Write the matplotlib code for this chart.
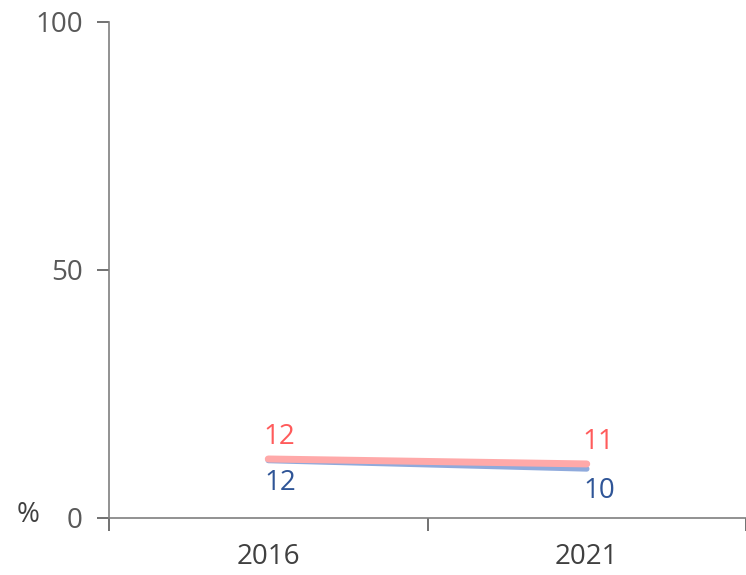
import matplotlib
matplotlib.use('Agg')
import matplotlib.pyplot as plt

years = ['2016', '2021']
pink_vals = [11.9, 10.9]
blue_vals = [11.6, 9.9]
pink_labels = ['12', '11']
blue_labels = ['12', '10']

plt.rcParams['font.family'] = ['Open Sans', 'DejaVu Sans']

fig = plt.figure(figsize=(7.46, 5.75), dpi=100)
ax = fig.add_axes([109 / 746, 1 - 518 / 575, 637 / 746, 496 / 575])

x = list(range(len(years)))
ax.plot(x, blue_vals, color='#8faadc', lw=4, solid_capstyle='round', zorder=2)
ax.plot(x, pink_vals, color='#ffa9a9', lw=5, solid_capstyle='round', zorder=3)

for xi, v, lab in zip(x, pink_vals, pink_labels):
    ax.annotate(lab, (xi, v), xytext=(8, 6), textcoords='offset points',
                ha='center', va='bottom', fontsize=20, color='#ff5b5b')
for xi, v, lab in zip(x, blue_vals, blue_labels):
    ax.annotate(lab, (xi, v), xytext=(9, -6), textcoords='offset points',
                ha='center', va='top', fontsize=20, color='#2f5597')

ax.set_xlim(-0.5, 1.5)
ax.set_ylim(0, 100)
ax.set_yticks([0, 50, 100])
ax.set_xticks(x)
ax.set_xticklabels(years)
ax.set_xticks([-0.5, 0.5, 1.5], minor=True)
ax.tick_params(axis='x', which='major', length=0, pad=18, labelsize=20, labelcolor='#404040')
ax.tick_params(axis='x', which='minor', length=9, color='#595959', width=1.2)
ax.tick_params(axis='y', length=9, color='#595959', width=1.2, labelsize=20,
               labelcolor='#595959', pad=10)

for s in ['top', 'right']:
    ax.spines[s].set_visible(False)
for s in ['left', 'bottom']:
    ax.spines[s].set_color('#7f7f7f')
    ax.spines[s].set_linewidth(1.2)

fig.text(28 / 746, 1 - 515 / 575, '%', ha='center', va='center', fontsize=20, color='#404040')

fig.savefig('out.png', dpi=100)
